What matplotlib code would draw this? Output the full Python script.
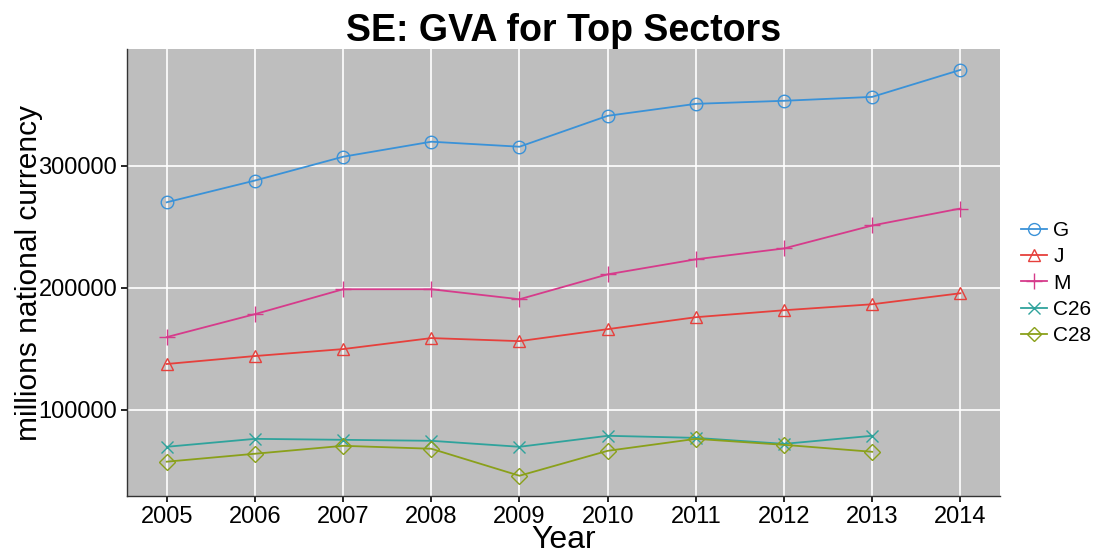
import matplotlib
matplotlib.use("Agg")
import matplotlib.pyplot as plt

plt.rcParams['font.family'] = ['Liberation Sans', 'DejaVu Sans']

years = [2005, 2006, 2007, 2008, 2009, 2010, 2011, 2012, 2013, 2014]
years_c = [2005, 2006, 2007, 2008, 2009, 2010, 2011, 2012, 2013]

G = [270000, 287800, 307300, 319600, 315500, 340800, 350600, 353100, 356300, 378400]
J = [137600, 144100, 149800, 158800, 156300, 166100, 175900, 181600, 186500, 195500]
M = [159600, 178400, 198800, 198800, 190600, 211000, 223300, 232200, 251000, 264900]
C26 = [69800, 76300, 75500, 74700, 69800, 78800, 77100, 72200, 78800]
C28 = [57600, 64100, 70600, 68200, 46100, 66500, 76300, 71400, 65700]

series = [
    ("G", years, G, "#3a92d8", "o"),
    ("J", years, J, "#e6403c", "^"),
    ("M", years, M, "#d63b8b", "+"),
    ("C26", years_c, C26, "#2fa39c", "x"),
    ("C28", years_c, C28, "#8aa01a", "D"),
]

fig = plt.figure(figsize=(10.99, 5.55), dpi=100)
ax = fig.add_axes([0.1156, 0.1063, 0.7944, 0.8054])
ax.set_facecolor("#bebebe")

for name, xs, ys, col, mk in series:
    if mk == "+":
        ax.plot(xs, ys, color=col, lw=1.3, marker=mk, markersize=12,
                markeredgewidth=1.0, label=name)
    elif mk == "x":
        ax.plot(xs, ys, color=col, lw=1.3, marker=mk, markersize=9,
                markeredgewidth=1.0, label=name)
    else:
        ms = 9 if mk != "D" else 8
        ax.plot(xs, ys, color=col, lw=1.3, marker=mk, markersize=ms,
                markerfacecolor="none", markeredgewidth=1.0, label=name)

ax.set_xlim(2004.55, 2014.45)
ax.set_ylim(29500, 395500)
ax.set_xticks(years)
ax.set_xticklabels([str(y) for y in years])
ax.set_yticks([100000, 200000, 300000])
ax.set_yticklabels(["100000", "200000", "300000"])
ax.grid(True, color="white", lw=1.2)
ax.set_axisbelow(True)
for s in ["top", "right"]:
    ax.spines[s].set_visible(False)
for s in ["left", "bottom"]:
    ax.spines[s].set_color("#333333")
    ax.spines[s].set_linewidth(1.0)
ax.tick_params(axis="both", labelsize=17, colors="black", length=4, width=1.2, pad=3)

ax.set_title("SE: GVA for Top Sectors", fontsize=27, fontweight="bold", pad=6)
ax.set_xlabel("Year", fontsize=23, labelpad=-2)
ax.set_ylabel("millions national currency", fontsize=21.5, labelpad=-3)

leg = ax.legend(loc="center left", bbox_to_anchor=(1.0, 0.476), frameon=False,
                fontsize=15, handlelength=1.25, labelspacing=0.35, handletextpad=0.3,
                borderaxespad=0.6, markerscale=0.95)

fig.savefig("out.png", dpi=100)
